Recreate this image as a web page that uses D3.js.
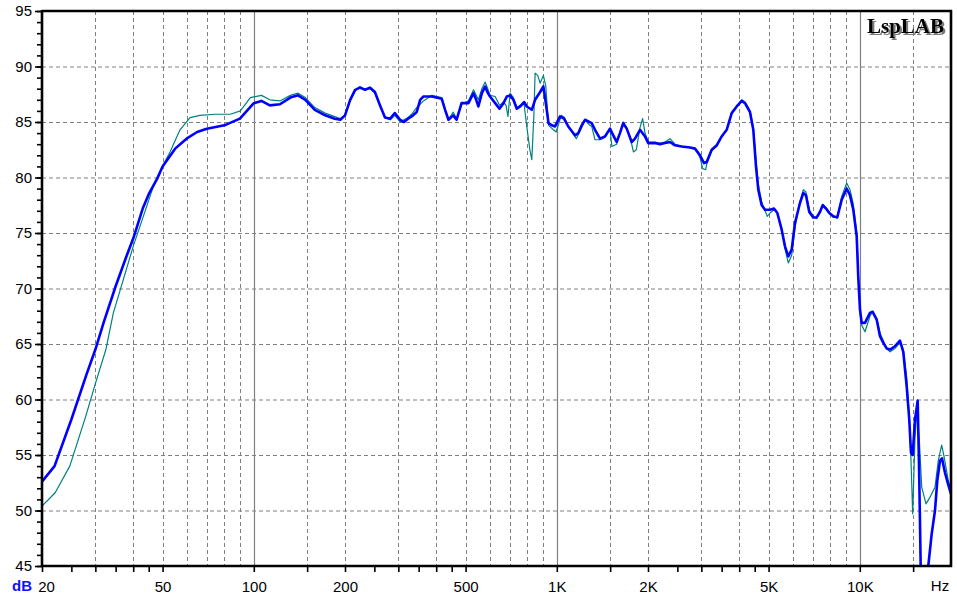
<!DOCTYPE html>
<html><head><meta charset="utf-8">
<script src="https://cdn.jsdelivr.net/npm/d3@7"></script>
<style>body{margin:0;background:#fff} svg{display:block}</style>
</head><body>
<svg id="chart" width="957" height="596"></svg>
<script>
// ---------- data ----------
const dbTicks = [45,50,55,60,65,70,75,80,85,90,95];
const freqTicks = [20,25,30,35,40,45,50,100,150,200,250,300,350,400,450,500,1000,1500,2000,2500,3000,3500,4000,4500,5000,10000,15000];
const freqLabelValues = [20,50,100,200,500,1000,2000,5000,10000];
const freqLabelTexts = ["20","50","100","200","500","1K","2K","5K","10K"];
const gridFreqs = [30,40,50,60,70,80,90,150,200,300,400,500,600,700,800,900,1500,2000,3000,4000,5000,6000,7000,8000,9000,15000];
const decadeFreqs = [100,1000,10000];

const blueFreq = [20,22,25,28,30,32,35,38,40,43,45,48,50,55,60,65,70,80,90,100,106,113,122,132,140,148,159,172,185,193,200,208,216,224,233,242,251,261,271,282,292,304,313,323,332,345,354,363,387,417,428,439,455,467,485,511,531,542,551,566,580,590,602,626,647,667,684,701,719,738,757,780,796,827,848,881,903,920,939,963,987,1025,1056,1091,1148,1178,1209,1239,1304,1337,1389,1442,1498,1536,1576,1616,1657,1701,1767,1812,1882,1955,2004,2109,2191,2276,2364,2455,2584,2752,2858,2970,3061,3124,3245,3371,3501,3637,3778,3925,4076,4180,4341,4452,4544,4624,4745,4866,5054,5210,5343,5524,5664,5808,5960,6111,6347,6509,6643,6812,7022,7205,7388,7543,7733,7929,8173,8426,8716,9053,9283,9518,9768,9886,10015,10145,10403,10805,11029,11370,11659,11956,12267,12579,13066,13572,13916,14279,14564,14757,14948,15212,15527,15718,15885,16100,16600,16830,17270,17710,18022,18396,18677,19108,19593,20000];
const blueDb = [52.6,54.0,58.2,62.2,64.5,67.0,70.2,72.9,74.5,77.2,78.5,79.9,81.0,82.6,83.5,84.1,84.4,84.7,85.3,86.7,86.9,86.5,86.6,87.2,87.4,87.0,86.1,85.6,85.3,85.2,85.6,87.0,87.9,88.1,87.9,88.1,87.7,86.5,85.4,85.3,85.8,85.2,85.0,85.3,85.5,85.9,87.0,87.3,87.3,87.1,86.1,85.2,85.6,85.2,86.7,86.7,87.6,87.0,86.4,87.6,88.2,87.7,87.3,86.7,86.2,86.7,87.3,87.4,87.0,86.2,86.4,86.8,86.4,86.1,87.0,87.7,88.2,86.7,84.9,84.7,84.6,85.5,85.3,84.6,83.8,84.0,84.7,85.2,84.9,84.3,83.5,83.7,84.4,83.8,83.2,84.0,84.9,84.4,83.2,83.5,84.3,83.7,83.1,83.1,83.0,83.1,83.2,82.9,82.8,82.7,82.6,82.0,81.3,81.4,82.5,82.9,83.7,84.3,85.8,86.4,86.9,86.7,85.9,84.3,81.0,78.9,77.5,77.1,77.1,77.2,76.8,75.3,73.8,72.9,73.5,75.9,77.7,78.6,78.4,76.9,76.4,76.4,76.9,77.5,77.2,76.8,76.5,76.4,78.0,79.0,78.4,77.1,74.7,71.0,68.1,66.9,66.9,67.8,67.9,67.2,65.7,65.1,64.6,64.5,64.8,65.3,64.3,61.2,58.2,55.2,55.0,58.2,59.9,52.7,45.0,42.0,42.0,45.0,47.9,50.0,52.7,54.5,54.7,53.4,52.3,51.5];

const tealFreq = [20,22.1,24.7,27.9,29.9,32.5,34.4,37.1,40,43.2,46.6,50.2,52.9,57.1,61.6,66.4,74.6,83.7,90.3,97.4,106,113,122,132,140,148,159,172,193,200,208,216,224,233,242,251,261,271,282,292,304,313,323,332,345,354,363,387,417,428,439,455,467,485,511,531,542,551,566,580,590,602,626,647,667,680,690,701,719,738,757,780,796,815,827,840,848,865,881,903,920,939,975,995,1035,1060,1091,1160,1209,1239,1285,1304,1337,1389,1442,1498,1520,1576,1616,1657,1701,1767,1790,1830,1882,1920,1955,2004,2109,2191,2276,2364,2455,2584,2752,2858,2970,3030,3100,3124,3245,3371,3501,3637,3778,3925,4076,4180,4341,4452,4544,4624,4745,4866,4950,5054,5210,5343,5524,5664,5808,5960,6111,6347,6509,6643,6812,7022,7205,7388,7543,7733,7929,8173,8426,8716,9053,9283,9518,9768,9886,10015,10145,10403,10805,11029,11370,11659,11956,12267,12579,13066,13572,13916,14279,14564,14757,14948,15212,15410,15718,16010,16540,17050,17710,18160,18630,18960,19593,20000];
const tealDb = [50.4,51.6,54.0,58.5,61.3,64.5,67.8,70.8,73.8,76.5,79.2,81.1,82.3,84.3,85.4,85.6,85.7,85.7,86.0,87.2,87.4,87.0,86.9,87.4,87.6,87.2,86.3,85.8,85.3,85.6,86.9,87.8,88.2,87.9,88.0,87.6,86.4,85.4,85.2,85.6,85.0,85.2,85.4,85.7,86.3,86.6,86.9,87.4,87.2,86.0,85.2,85.9,85.3,86.6,86.9,87.9,87.4,87.0,88.0,88.6,88.1,87.4,87.3,86.5,86.8,86.5,85.5,87.6,87.2,86.3,86.5,86.6,84.6,82.5,81.6,85.5,89.4,89.2,88.5,89.2,88.2,84.7,84.3,84.1,85.6,85.4,84.6,83.5,84.5,85.2,84.7,84.6,83.4,83.4,83.6,84.4,82.8,83.0,84.0,85.0,84.5,83.0,82.3,82.5,84.5,85.3,84.0,83.2,83.2,83.1,83.2,83.5,83.0,82.8,82.7,82.6,81.8,80.8,80.7,81.2,82.4,82.8,83.7,84.3,85.8,86.4,87.0,86.8,86.0,84.5,81.5,79.4,77.8,77.0,76.5,76.8,77.1,76.9,75.4,73.6,72.3,73.0,75.5,77.8,78.9,78.7,77.1,76.5,76.3,76.8,77.6,77.3,76.9,76.4,76.5,78.3,79.5,78.9,77.6,75.0,71.5,67.9,66.7,66.1,67.5,67.9,67.3,66.0,65.3,64.6,64.3,64.6,65.1,64.5,62.0,58.5,54.5,49.7,56.6,58.7,56.4,52.1,50.6,51.2,52.1,54.5,55.9,54.9,52.7,51.8];

// ---------- chart ----------
const svg = d3.select("#chart");
const L = 42, R = 951, T = 11, B = 566;
const x = d3.scaleLog().domain([20, 20000]).range([L, R]);
const y = d3.scaleLinear().domain([45, 95]).range([B, T]);
const font = "'Liberation Sans', Arial, sans-serif";

svg.append("rect").attr("width", 957).attr("height", 596).attr("fill", "#fff");

const defs = svg.append("defs");
const shadow = defs.append("filter").attr("id", "shadow")
  .attr("x", "-10%").attr("y", "-20%").attr("width", "130%").attr("height", "150%");
shadow.append("feDropShadow").attr("dx", 2).attr("dy", 2).attr("stdDeviation", 0.6)
  .attr("flood-color", "#7a7a7a").attr("flood-opacity", 1);

// grid
const grid = svg.append("g");
grid.selectAll("line.h").data(dbTicks.filter(d => d > 45 && d < 95)).join("line")
  .attr("x1", L).attr("x2", R).attr("y1", d => y(d) + 0.5).attr("y2", d => y(d) + 0.5)
  .attr("stroke", "#808080").attr("stroke-width", 1).attr("stroke-dasharray", "4,3");
grid.selectAll("line.v").data(gridFreqs).join("line")
  .attr("x1", d => Math.round(x(d)) + 0.5).attr("x2", d => Math.round(x(d)) + 0.5)
  .attr("y1", T).attr("y2", B)
  .attr("stroke", "#808080").attr("stroke-width", 1).attr("stroke-dasharray", "4,3");
grid.selectAll("line.d").data(decadeFreqs).join("line")
  .attr("x1", d => Math.round(x(d)) + 0.5).attr("x2", d => Math.round(x(d)) + 0.5)
  .attr("y1", T).attr("y2", B)
  .attr("stroke", "#808080").attr("stroke-width", 1.2);

// curves
defs.append("clipPath").attr("id", "clip").append("rect")
  .attr("x", L).attr("y", T).attr("width", R - L).attr("height", B - T);
const line = d3.line().x(d => x(d[0])).y(d => y(d[1]));
const plot = svg.append("g").attr("clip-path", "url(#clip)");
plot.append("path").datum(d3.zip(tealFreq, tealDb)).attr("d", line)
  .attr("fill", "none").attr("stroke", "#008080").attr("stroke-width", 1.2).attr("stroke-linejoin", "round");
plot.append("path").datum(d3.zip(blueFreq, blueDb)).attr("d", line)
  .attr("fill", "none").attr("stroke", "#0000ff").attr("stroke-width", 2.6).attr("stroke-linejoin", "round");

// y axis
const yMinor = svg.append("g").attr("transform", `translate(${L},0)`)
  .call(d3.axisLeft(y).tickValues(d3.range(45, 96, 1)).tickSize(5).tickFormat(""));
const yMajor = svg.append("g").attr("transform", `translate(${L},0)`)
  .call(d3.axisLeft(y).tickValues(dbTicks).tickSize(7).tickPadding(3).tickFormat(d3.format("d")));
[yMinor, yMajor].forEach(g => {
  g.select(".domain").remove();
  g.selectAll("line").attr("stroke", "#000").attr("stroke-width", 1.6);
});
yMajor.selectAll("text").attr("font-family", font).attr("font-size", 15).attr("fill", "#000");

// x axis
const labelMap = new Map(freqLabelValues.map((v, i) => [v, freqLabelTexts[i]]));
const xAx = svg.append("g").attr("transform", `translate(0,${B})`)
  .call(d3.axisBottom(x).tickValues(freqTicks).tickSize(6).tickPadding(9)
    .tickFormat(d => labelMap.get(d) || ""));
xAx.select(".domain").remove();
xAx.selectAll("line").attr("stroke", "#000").attr("stroke-width", 1.6);
xAx.selectAll("text").attr("font-family", font).attr("font-size", 15).attr("fill", "#000");
xAx.selectAll(".tick").filter(d => d === 20).select("text").attr("dx", 4);

// frame
const frame = svg.append("g").attr("stroke", "#000").attr("stroke-width", 2.6);
frame.append("line").attr("x1", L).attr("x2", R + 1).attr("y1", T).attr("y2", T);
frame.append("line").attr("x1", L).attr("x2", R + 1).attr("y1", B).attr("y2", B);
frame.append("line").attr("x1", L).attr("x2", L).attr("y1", T - 1).attr("y2", B + 1);
frame.append("line").attr("x1", R).attr("x2", R).attr("y1", T - 1).attr("y2", B + 1);

// unit labels
svg.append("text").attr("x", 940).attr("y", 591).attr("text-anchor", "middle")
  .attr("font-family", font).attr("font-size", 15).attr("fill", "#000").text("Hz");
svg.append("text").attr("x", 22).attr("y", 591).attr("text-anchor", "middle")
  .attr("font-family", font).attr("font-size", 15).attr("font-weight", "bold").attr("fill", "#1010ff").text("dB");

// brand
svg.append("text").attr("x", 944).attr("y", 33).attr("text-anchor", "end")
  .attr("font-family", "'Liberation Serif', 'Times New Roman', serif")
  .attr("font-size", 21).attr("font-weight", "bold").attr("fill", "#000")
  .attr("filter", "url(#shadow)").text("LspLAB");
</script>
</body></html>
